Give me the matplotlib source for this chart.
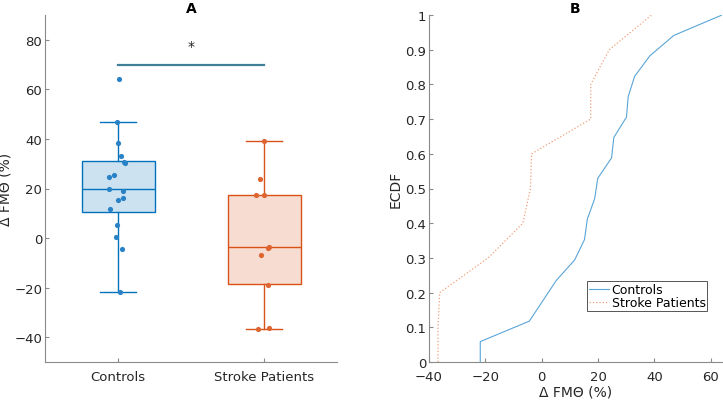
import numpy as np
import matplotlib
matplotlib.use('Agg')
import matplotlib.pyplot as plt

# data
groups = ['Controls', 'Stroke Patients']
controls = [64.0, 46.9, 38.4, 33.0, 30.7, 30.1, 25.6, 24.8, 19.9, 18.8,
            16.2, 15.2, 11.7, 5.2, 0.4, -4.4, -21.8]
stroke = [39.0, 24.0, 17.4, 17.4, -3.6, -4.0, -6.7, -19.0, -36.2, -36.8]

# box statistics as drawn (q1, median, q3, lower whisker, upper whisker)
q1 = [10.5, -18.7]
med = [20.0, -3.8]
q3 = [31.1, 17.4]
whis_lo = [-21.8, -36.8]
whis_hi = [46.9, 39.0]

# horizontal jitter of the dots
jit_controls = [0.005, -0.009, 0, 0.021, 0.041, 0.046, -0.027, -0.064, -0.064,
                0.032, 0.032, 0, -0.055, -0.005, -0.012, 0.027, 0.012]
jit_stroke = [-0.002, -0.027, -0.057, 0.002, 0.036, 0.025, -0.018, 0.029, 0.036, -0.043]

blue = '#0072BD'
red = '#D95319'
txt = '#262626'
spine = '#8a8a8a'

plt.rcParams['font.family'] = 'DejaVu Sans'
plt.rcParams['font.size'] = 9.5

fig = plt.figure(figsize=(7.23, 4.02), dpi=100)
axA = fig.add_axes([45 / 723, 1 - 363 / 402, 292 / 723, 347 / 402])
axB = fig.add_axes([429 / 723, 1 - 363 / 402, 293 / 723, 347 / 402])

# ---- panel A: box charts
cols = [blue, red]
for i in range(2):
    c = cols[i]
    s = dict(q1=q1[i], med=med[i], q3=q3[i], whislo=whis_lo[i], whishi=whis_hi[i], fliers=[])
    axA.bxp([s], positions=[i + 1], widths=0.5, patch_artist=True,
            boxprops=dict(facecolor=matplotlib.colors.to_rgba(c, 0.2), edgecolor=c, linewidth=1.0),
            medianprops=dict(color=c, linewidth=1.0),
            whiskerprops=dict(color=c, linewidth=1.0),
            capprops=dict(color=c, linewidth=1.0), capwidths=0.25,
            showfliers=False)

axA.scatter(1 + np.array(jit_controls), controls, s=14, color='#2a82c6', zorder=3, linewidths=0)
axA.scatter(2 + np.array(jit_stroke), stroke, s=14, color='#de6532', zorder=3, linewidths=0)

# significance bar
axA.plot([1, 2], [70, 70], color='#41809b', linewidth=1.6)
axA.text(1.5, 77.5, '*', ha='center', va='center', fontsize=10, color=txt)

axA.set_xlim(0.5, 2.5)
axA.set_ylim(-50, 90)
axA.set_xticks([1, 2])
axA.set_xticklabels(groups)
axA.set_yticks(np.arange(-40, 81, 20))
axA.set_ylabel('Δ FMΘ (%)', color=txt, fontsize=10, labelpad=1)
axA.set_title('A', fontweight='bold', fontsize=10, color='black', pad=2)

# ---- panel B: empirical CDFs
def ecdf(v):
    x = np.sort(v)
    f = np.arange(1, len(x) + 1) / len(x)
    return np.r_[x[0], x], np.r_[0, f]

xc, fc = ecdf(controls)
xs, fs = ecdf(stroke)
axB.plot(xc, fc, color='#5aa5d8', linewidth=0.8, label='Controls')
axB.plot(xs, fs, color='#f0a07a', linewidth=0.9, linestyle=':', label='Stroke Patients')

axB.set_xlim(-40, 64)
axB.set_ylim(0, 1)
axB.set_xticks(np.arange(-40, 61, 20))
axB.set_yticks(np.arange(0, 1.01, 0.1))
axB.set_yticklabels(['0'] + ['%.1f' % v for v in np.arange(0.1, 0.95, 0.1)] + ['1'])
axB.set_xlabel('Δ FMΘ (%)', color=txt, fontsize=10, labelpad=1)
axB.set_ylabel('ECDF', color=txt, fontsize=10, labelpad=2)
axB.set_title('B', fontweight='bold', fontsize=10, color='black', pad=2)

leg = axB.legend(loc='upper left', bbox_to_anchor=(0.54, 0.232), fontsize=9,
                 handlelength=1.6, handletextpad=0.2, borderpad=0.15,
                 labelspacing=0.0, borderaxespad=0, fancybox=False, framealpha=1)
leg.get_frame().set_edgecolor('#555555')
leg.get_frame().set_linewidth(0.7)

for ax in (axA, axB):
    ax.spines['top'].set_visible(False)
    ax.spines['right'].set_visible(False)
    for sp in ('left', 'bottom'):
        ax.spines[sp].set_color(spine)
        ax.spines[sp].set_linewidth(0.8)
    ax.tick_params(direction='in', length=3, width=0.8, color=spine, labelcolor=txt, labelsize=9.5)
    ax.tick_params(axis='y', pad=2)
    ax.tick_params(axis='x', pad=5.5)

fig.savefig('out.png', dpi=100)
